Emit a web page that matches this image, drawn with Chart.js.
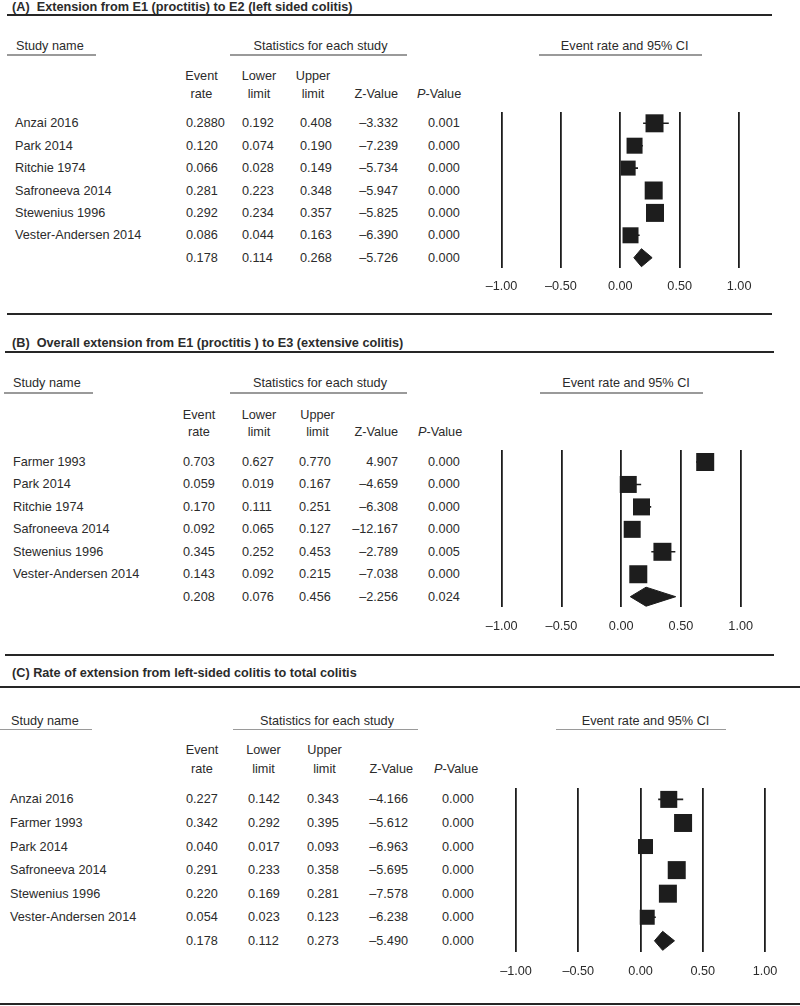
<!DOCTYPE html>
<html><head><meta charset="utf-8">
<script src="https://cdn.jsdelivr.net/npm/chart.js@4.4.1/dist/chart.umd.min.js"></script>
<style>
html,body{margin:0;padding:0;background:#fff;}
#page{position:relative;width:800px;height:1006px;overflow:hidden;font-family:"Liberation Sans",Arial,Helvetica,sans-serif;font-size:12.7px;color:#2b2b2b;}
.t{position:absolute;white-space:nowrap;line-height:16px;height:16px;}
.rule{position:absolute;}
</style></head><body><div id="page"></div>
<script>
// ---------------- DATA ----------------
const titleA = "(A)\u00a0 Extension from E1 (proctitis) to E2 (left sided colitis)";
const studiesA = ["Anzai 2016","Park 2014","Ritchie 1974","Safroneeva 2014","Stewenius 1996","Vester-Andersen 2014"];
const rateA  = ["0.2880","0.120","0.066","0.281","0.292","0.086"];
const lowerA = ["0.192","0.074","0.028","0.223","0.234","0.044"];
const upperA = ["0.408","0.190","0.149","0.348","0.357","0.163"];
const zA     = ["\u20133.332","\u20137.239","\u20135.734","\u20135.947","\u20135.825","\u20136.390"];
const pA     = ["0.001","0.000","0.000","0.000","0.000","0.000"];
const weightA = [18,16,15,18,18,16];
const pooledA = ["0.178","0.114","0.268","\u20135.726","0.000"];

const titleB = "(B)\u00a0 Overall extension from E1 (proctitis ) to E3 (extensive colitis)";
const studiesB = ["Farmer 1993","Park 2014","Ritchie 1974","Safroneeva 2014","Stewenius 1996","Vester-Andersen 2014"];
const rateB  = ["0.703","0.059","0.170","0.092","0.345","0.143"];
const lowerB = ["0.627","0.019","0.111","0.065","0.252","0.092"];
const upperB = ["0.770","0.167","0.251","0.127","0.453","0.215"];
const zB     = ["4.907","\u20134.659","\u20136.308","\u201312.167","\u20132.789","\u20137.038"];
const pB     = ["0.000","0.000","0.000","0.000","0.005","0.000"];
const weightB = [18,17,17,17,18,18];
const pooledB = ["0.208","0.076","0.456","\u20132.256","0.024"];

const titleC = "(C) Rate of extension from left-sided colitis to total colitis";
const studiesC = ["Anzai 2016","Farmer 1993","Park 2014","Safroneeva 2014","Stewenius 1996","Vester-Andersen 2014"];
const rateC  = ["0.227","0.342","0.040","0.291","0.220","0.054"];
const lowerC = ["0.142","0.292","0.017","0.233","0.169","0.023"];
const upperC = ["0.343","0.395","0.093","0.358","0.281","0.123"];
const zC     = ["\u20134.166","\u20135.612","\u20136.963","\u20135.695","\u20137.578","\u20136.238"];
const pC     = ["0.000","0.000","0.000","0.000","0.000","0.000"];
const weightC = [17,18,15,18,18,15];
const pooledC = ["0.178","0.112","0.273","\u20135.490","0.000"];

const sectionHeads = ["Study name","Statistics for each study","Event rate and 95% CI"];
const colHeadTop = ["Event","Lower","Upper"];
const colHeadBottom = ["rate","limit","limit"];
const zHead = "Z-Value";
const pHead = "<i>P</i>-Value";
const axisTicks = [-1,-0.5,0,0.5,1];

// ---------------- LAYOUT ----------------
const INK = "#1d1d1d", TEXT = "#2b2b2b", GREY = "#9a9a9a";
const FONT = "'Liberation Sans', Arial, Helvetica, sans-serif";
const AXIS_H = 32;

const layoutA = {titleX:12,titleY:7,titleRule:[7,772,15],bottomRule:[7,772,314],
  headY:46,headRuleY:55,studyHeadX:16,studyRule:[7,96],statsCx:320.5,statsRule:[230,407],ciCx:624.7,ciRule:[539,702],
  head1Y:76,head2Y:94,rateX:186,rateH:201.5,lowX:242,lowH:259,upX:300,upH:313,zR:398,zHR:398,pX:428,pHX:417,
  nameX:15,row0:123.3,dy:22.4,gridTop:111.7,gridBottom:267.7,x0:620.3,unit:118.8,tickY:286,diamondH:9};
const layoutB = {titleX:12,titleY:342.7,titleRule:[5,774,352],bottomRule:[5,774,655],
  headY:383,headRuleY:393,studyHeadX:13,studyRule:[4,93],statsCx:320,statsRule:[230,407],ciCx:626,ciRule:[540,703],
  head1Y:415,head2Y:432,rateX:183,rateH:199,lowX:242,lowH:259,upX:299,upH:317.5,zR:398,zHR:398,pX:428,pHX:418,
  nameX:13,row0:462,dy:22.45,gridTop:450,gridBottom:607,x0:621.2,unit:119.5,tickY:626,diamondH:9.5};
const layoutC = {titleX:12,titleY:673,titleRule:[0,800,687],bottomRule:[0,800,1004],
  headY:720.5,headRuleY:729.3,studyHeadX:11,studyRule:[0,92],statsCx:327,statsRule:[233,418],ciCx:645.5,ciRule:[556,726],
  head1Y:750,head2Y:769.3,rateX:186,rateH:202,lowX:248,lowH:263.5,upX:307,upH:324.5,zR:408,zHR:413,pX:442,pHX:434,
  nameX:10,row0:799.4,dy:23.57,gridTop:787.7,gridBottom:951.7,x0:640.5,unit:124.5,tickY:971,diamondH:9.5};

const page = document.getElementById('page');
function txt(s, x, y, align, opt) {
  const d = document.createElement('div'); d.className = 't';
  if (align === 'left') { d.style.left = x + 'px'; }
  else if (align === 'right') { d.style.left = (x - 300) + 'px'; d.style.width = '300px'; d.style.textAlign = 'right'; }
  else { d.style.left = (x - 200) + 'px'; d.style.width = '400px'; d.style.textAlign = 'center'; }
  d.style.top = (y - 8) + 'px';
  if (opt && opt.html) d.innerHTML = s; else d.textContent = s;
  if (opt && opt.bold) d.style.fontWeight = 'bold';
  page.appendChild(d);
}
function rule(x1, x2, y, th, color) {
  const d = document.createElement('div'); d.className = 'rule';
  d.style.left = x1 + 'px'; d.style.width = (x2 - x1) + 'px';
  d.style.top = (y - th / 2) + 'px'; d.style.height = th + 'px'; d.style.background = color;
  page.appendChild(d);
}
function fmtTick(v) { return (v < 0 ? '\u2013' : '') + Math.abs(v).toFixed(2); }

function buildPanel(title, L, studies, rate, lower, upper, z, p, weight, pooled) {
  txt(title, L.titleX, L.titleY, 'left', {bold:true});
  rule(L.titleRule[0], L.titleRule[1], L.titleRule[2], 2, '#262626');
  rule(L.bottomRule[0], L.bottomRule[1], L.bottomRule[2], 2, '#262626');
  txt(sectionHeads[0], L.studyHeadX, L.headY, 'left');
  rule(L.studyRule[0], L.studyRule[1], L.headRuleY, 1.5, GREY);
  txt(sectionHeads[1], L.statsCx, L.headY, 'center');
  rule(L.statsRule[0], L.statsRule[1], L.headRuleY, 1.5, GREY);
  txt(sectionHeads[2], L.ciCx, L.headY, 'center');
  rule(L.ciRule[0], L.ciRule[1], L.headRuleY, 1.5, GREY);
  const hx = [L.rateH, L.lowH, L.upH];
  for (let c = 0; c < 3; c++) {
    txt(colHeadTop[c], hx[c], L.head1Y, 'center');
    txt(colHeadBottom[c], hx[c], L.head2Y, 'center');
  }
  txt(zHead, L.zHR, L.head2Y, 'right');
  txt(pHead, L.pHX, L.head2Y, 'left', {html:true});
  const rows = studies.length;
  for (let i = 0; i <= rows; i++) {
    const y = L.row0 + i * L.dy;
    const pooledRow = i === rows;
    if (!pooledRow) txt(studies[i], L.nameX, y, 'left');
    txt(pooledRow ? pooled[0] : rate[i], L.rateX, y, 'left');
    txt(pooledRow ? pooled[1] : lower[i], L.lowX, y, 'left');
    txt(pooledRow ? pooled[2] : upper[i], L.upX, y, 'left');
    txt(pooledRow ? pooled[3] : z[i], L.zR, y, 'right');
    txt(pooledRow ? pooled[4] : p[i], L.pX, y, 'left');
  }
  drawForest(L, rate, lower, upper, weight, pooled);
}

function drawForest(L, rate, lower, upper, weight, pooled) {
  const m = 1.3;
  const left = Math.floor(L.x0 - m * L.unit), right = Math.ceil(L.x0 + m * L.unit);
  const top = Math.round(L.gridTop), bottom = Math.round(L.gridBottom);
  const chartH = bottom - top;
  const wrap = document.createElement('div');
  wrap.style.cssText = 'position:absolute;left:' + left + 'px;top:' + top + 'px;width:' + (right - left) + 'px;height:' + (chartH + AXIS_H) + 'px;';
  const cv = document.createElement('canvas');
  wrap.appendChild(cv); page.appendChild(wrap);
  const ymin = -(L.row0 - top) / L.dy, ymax = ymin + chartH / L.dy;
  const n = rate.length;
  const ci = [];
  for (let i = 0; i < n; i++) {
    ci.push({x:+lower[i], y:i}, {x:+upper[i], y:i}, {x:+upper[i], y:null});
  }
  const pts = rate.map((r, i) => ({x:+r, y:i}));
  const h = L.diamondH / L.dy;
  const dia = [{x:+pooled[1], y:n}, {x:+pooled[0], y:n - h}, {x:+pooled[2], y:n}, {x:+pooled[0], y:n + h}, {x:+pooled[1], y:n}];
  new Chart(cv, {
    type: 'scatter',
    data: {datasets: [
      {data: pts, pointStyle: 'rect', pointRadius: weight.map(w => w / Math.SQRT2), pointHoverRadius: weight.map(w => w / Math.SQRT2), backgroundColor: INK, borderColor: INK, borderWidth: 0},
      {data: ci, showLine: true, borderColor: INK, borderWidth: 1.6, pointRadius: 0, spanGaps: false},
      {data: dia, showLine: true, fill: 'shape', backgroundColor: INK, borderColor: INK, borderWidth: 1, pointRadius: 0}
    ]},
    options: {
      responsive: true, maintainAspectRatio: false, animation: false, events: [],
      layout: {padding: 0, autoPadding: false},
      plugins: {legend: {display: false}, tooltip: {enabled: false}},
      scales: {
        x: {type: 'linear', min: (left - L.x0) / L.unit, max: (right - L.x0) / L.unit,
          afterBuildTicks: s => { s.ticks = axisTicks.map(v => ({value: v})); },
          afterFit: s => { s.height = AXIS_H; s.paddingLeft = 0; s.paddingRight = 0; },
          border: {display: false},
          grid: {color: INK, lineWidth: 1.8, drawTicks: false},
          ticks: {autoSkip: false, maxRotation: 0, padding: L.tickY - bottom - 7.62, color: TEXT,
            font: {family: FONT, size: 12.7}, callback: v => fmtTick(v)}},
        y: {type: 'linear', display: false, reverse: true, min: ymin, max: ymax}
      }
    }
  });
}

buildPanel(titleA, layoutA, studiesA, rateA, lowerA, upperA, zA, pA, weightA, pooledA);
buildPanel(titleB, layoutB, studiesB, rateB, lowerB, upperB, zB, pB, weightB, pooledB);
buildPanel(titleC, layoutC, studiesC, rateC, lowerC, upperC, zC, pC, weightC, pooledC);
</script></body></html>
